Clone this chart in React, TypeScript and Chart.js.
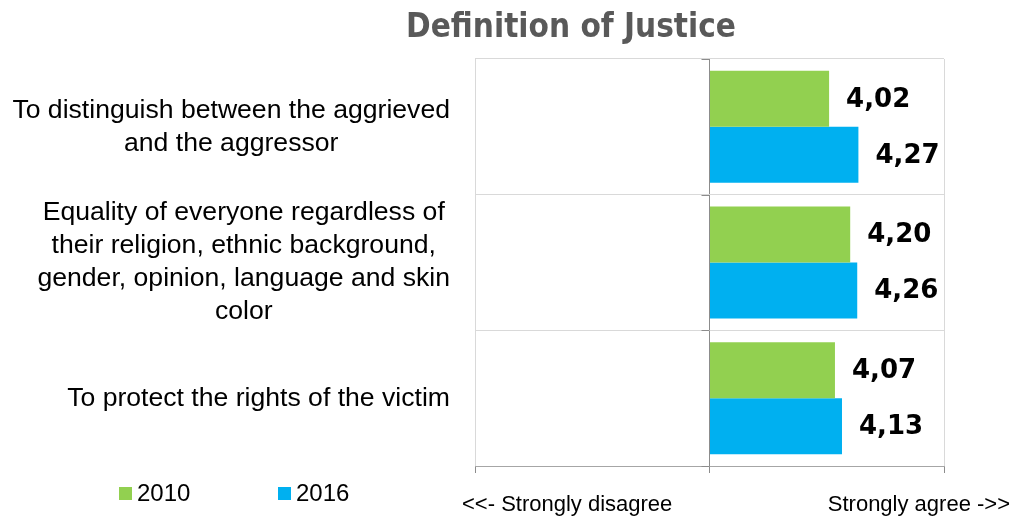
import React, { useEffect, useRef } from "react";
import { Chart, registerables } from "chart.js";

Chart.register(...registerables);

const TITLE = "Definition of Justice";
const categories: string[][] = [
  ["To distinguish between the aggrieved", "and the aggressor"],
  ["Equality of everyone regardless of", "their religion, ethnic background,", "gender, opinion, language and skin", "color"],
  ["To protect the rights of the victim"],
];
const seriesNames = ["2010", "2016"];
const values2010 = [4.02, 4.2, 4.07];
const values2016 = [4.27, 4.26, 4.13];
const seriesColors = ["#92D050", "#00B0F0"];
const scaleMin = 1;
const scaleMid = 3;
const scaleMax = 5;
const leftAxisText = "<<- Strongly disagree";
const rightAxisText = "Strongly agree ->>";

const LABEL_FONT = "Liberation Sans";

const decorPlugin = {
  id: "decor",
  afterDraw(chart: any) {
    const ctx = chart.ctx;
    const area = chart.chartArea;
    const xs = chart.scales.x;
    const ys = chart.scales.y;
    ctx.save();

    // Title
    ctx.fillStyle = "#595959";
    ctx.font = "bold 33px 'DejaVu Sans Condensed', 'DejaVu Sans'";
    ctx.textAlign = "center";
    ctx.textBaseline = "middle";
    ctx.fillText(TITLE, 571, 28);

    // small tick marks on the center axis at category boundaries
    const cx = xs.getPixelForValue(scaleMid);
    ctx.strokeStyle = "#8C8C8C";
    ctx.lineWidth = 1;
    const n = categories.length;
    for (let i = 0; i <= n; i++) {
      const yy = Math.round(area.top + ((area.bottom - area.top) * i) / n) + 0.5;
      ctx.beginPath();
      ctx.moveTo(cx - 8, yy);
      ctx.lineTo(cx, yy);
      ctx.stroke();
    }

    // Category labels: block right-aligned, lines centered in block
    ctx.fillStyle = "#000";
    ctx.font = `26.6px '${LABEL_FONT}'`;
    ctx.textBaseline = "middle";
    ctx.textAlign = "center";
    const lh = 33;
    categories.forEach((lines, i) => {
      const y = ys.getPixelForTick(i);
      const w = Math.max(...lines.map((l) => ctx.measureText(l).width));
      const right = area.left - 25;
      const centerX = right - w / 2;
      lines.forEach((l, j) => {
        ctx.fillText(l, centerX, y + (j - (lines.length - 1) / 2) * lh);
      });
    });

    // Axis end labels
    ctx.font = `22px '${LABEL_FONT}'`;
    ctx.textAlign = "left";
    ctx.fillText(leftAxisText, area.left - 13, 505);
    ctx.textAlign = "right";
    ctx.fillText(rightAxisText, 1010, 505);

    // Legend
    ctx.font = `24px '${LABEL_FONT}'`;
    ctx.textAlign = "left";
    const legendX = [119, 278];
    chart.data.datasets.forEach((ds: any, i: number) => {
      ctx.fillStyle = ds.backgroundColor;
      ctx.fillRect(legendX[i], 487, 13, 13);
      ctx.fillStyle = "#000";
      ctx.fillText(ds.label, legendX[i] + 18, 494);
    });

    // Data labels
    ctx.font = "bold 26px 'DejaVu Sans'";
    ctx.fillStyle = "#000";
    ctx.textAlign = "left";
    chart.data.datasets.forEach((ds: any, di: number) => {
      const meta = chart.getDatasetMeta(di);
      meta.data.forEach((bar: any, i: number) => {
        const v = ds.data[i];
        ctx.fillText(v.toFixed(2).replace(".", ","), bar.x + 17, bar.y + 1);
      });
    });
    ctx.restore();
  },
};

export default function App() {
  const ref = useRef<HTMLCanvasElement>(null);
  useEffect(() => {
    document.body.style.margin = "0";
    const chart = new Chart(ref.current!, {
      type: "bar",
      data: {
        labels: categories.map((c) => c.join(" ")),
        datasets: [
          { label: seriesNames[0], data: values2010, backgroundColor: seriesColors[0], base: scaleMid } as any,
          { label: seriesNames[1], data: values2016, backgroundColor: seriesColors[1], base: scaleMid } as any,
        ],
      },
      options: {
        indexAxis: "y",
        animation: false,
        responsive: false,
        maintainAspectRatio: false,
        categoryPercentage: 0.825,
        barPercentage: 1,
        layout: { padding: { top: 59, right: 70, left: 0, bottom: 0 } },
        plugins: { legend: { display: false }, tooltip: { enabled: false }, title: { display: false } },
        scales: {
          x: {
            min: scaleMin,
            max: scaleMax,
            ticks: { stepSize: 2, display: false },
            grid: {
              color: (c: any) => (c.tick && c.tick.value === scaleMid ? "#8C8C8C" : "#D9D9D9"),
              tickColor: "#8C8C8C",
              tickLength: 7,
              drawTicks: true,
            },
            border: { color: "#A6A6A6" },
            afterFit: (s: any) => {
              s.height = 51;
            },
          },
          y: {
            ticks: { display: false },
            grid: { color: "#D9D9D9", drawTicks: false, offset: true },
            border: { display: false },
            afterFit: (s: any) => {
              s.width = 475;
            },
          },
        },
      } as any,
      plugins: [decorPlugin],
    });
    return () => chart.destroy();
  }, []);
  return (
    <div style={{ width: 1014, height: 517 }}>
      <canvas ref={ref} width={1014} height={517} style={{ display: "block" }} />
    </div>
  );
}
